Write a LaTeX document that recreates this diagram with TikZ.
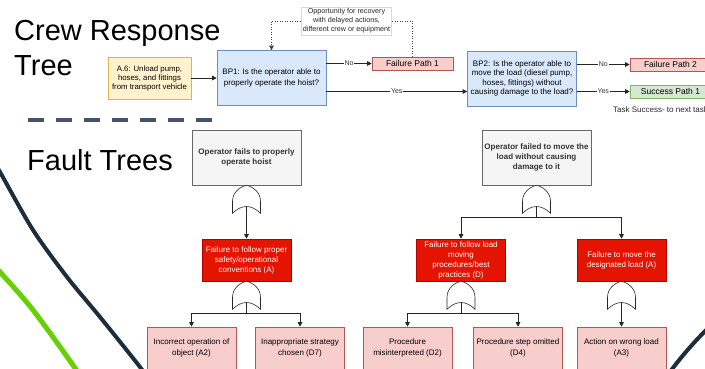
\documentclass[tikz,border=0pt]{standalone}
\usepackage{fontspec}
\setmainfont{Liberation Sans}
\usepackage{tikz}
\usetikzlibrary{arrows.meta, positioning, calc}

\definecolor{startfill}{HTML}{FFF2CC}
\definecolor{startline}{HTML}{D6B656}
\definecolor{bpfill}{HTML}{DAE8FC}
\definecolor{bpline}{HTML}{6C8EBF}
\definecolor{failfill}{HTML}{F8CECC}
\definecolor{failline}{HTML}{B85450}
\definecolor{succfill}{HTML}{D5E8D4}
\definecolor{succline}{HTML}{82B366}
\definecolor{topfill}{HTML}{F5F5F5}
\definecolor{topline}{HTML}{666666}
\definecolor{toptext}{HTML}{333333}
\definecolor{eventred}{HTML}{E51400}
\definecolor{eventline}{HTML}{B20000}
\definecolor{slidenavy}{HTML}{1C2D3C}
\definecolor{slidegreen}{HTML}{66D000}
\definecolor{dashslate}{HTML}{44546A}

\tikzset{
  boxbase/.style={rectangle, align=center, inner sep=2pt, line width=0.6pt,
                  font=\fontsize{8}{10}\selectfont},
  startbox/.style={boxbase, draw=startline, fill=startfill,
                   minimum width=83pt, minimum height=42pt, font=\fontsize{7.8}{9}\selectfont},
  bpbox/.style={boxbase, draw=bpline, fill=bpfill,
                minimum width=109pt, minimum height=55pt, font=\fontsize{8}{11}\selectfont},
  pathfail/.style={boxbase, draw=failline, fill=failfill, inner sep=0pt,
                   minimum width=81pt, minimum height=13pt, font=\fontsize{8.5}{10}\selectfont},
  pathok/.style={pathfail, draw=succline, fill=succfill},
  topevent/.style={boxbase, draw=topline, fill=topfill, text=toptext,
                   minimum width=109pt, minimum height=55pt, font=\fontsize{8}{10}\selectfont\bfseries},
  midevent/.style={boxbase, draw=eventline, fill=eventred, text=white,
                   minimum width=89pt, minimum height=42pt},
  basicevent/.style={boxbase, draw=failline, fill=failfill,
                     minimum width=89pt, minimum height=42pt, font=\fontsize{8}{10.5}\selectfont},
  recnote/.style={align=center, fill=white, draw=black!15, line width=0.4pt, inner sep=1.5pt,
                  font=\fontsize{7.2}{9}\selectfont, text=black!85},
  notetext/.style={inner sep=0pt, font=\fontsize{8}{9}\selectfont, text=black!85},
  edgelbl/.style={fill=white, inner sep=0.8pt, font=\fontsize{7}{8}\selectfont, text=black!80},
  flow/.style={draw=black!85, line width=0.6pt, -{Triangle[length=4.5pt,width=4.5pt]}},
  recover/.style={draw=black!75, line width=0.6pt, dash pattern=on 1pt off 1.5pt,
                  -{Triangle[length=4.5pt,width=4.5pt]}},
  gateline/.style={draw=black!85, fill=white, line width=0.6pt},
  slidetitle/.style={font=\fontsize{29}{34}\selectfont, inner sep=0pt, anchor=base west},
  orgate/.pic={
    \draw[gateline] (-14,28) -- (-14,16) .. controls (-14,6) and (-5,1) .. (0,0)
      .. controls (5,1) and (14,6) .. (14,16) -- (14,28)
      .. controls (5,19) and (-5,19) .. (-14,28) -- cycle;
    \coordinate (-out) at (0,21);
    \coordinate (-fork) at (0,32);
  }
}

\begin{document}
\begin{tikzpicture}[x=1pt, y=-1pt]
  \useasboundingbox (0,0) rectangle (705,368);
  \clip (0,0) rectangle (705,368);

  \draw[line width=4pt, slidenavy] plot[smooth] coordinates
        {(-10,155) (0,172) (33,230) (67,277) (100,317) (140,367) (148,380)};
  \draw[line width=5pt, slidegreen] plot[smooth] coordinates
        {(-10,262) (0,272) (33,310) (75,368) (82,380)};
  \draw[line width=4pt, slidenavy] (718,318) .. controls (700,336) and (684,352) .. (664,380);

  \node[slidetitle] (crewttl) at (14,40) {Crew Response};
  \node[slidetitle] (treettl) at (14,75) {Tree};
  \node[slidetitle] (faultttl) at (27,170) {Fault Trees};
  \draw[dashslate, line width=3.3pt, dash pattern=on 16pt off 12pt] (28,120) -- (212,120);

  \node[startbox] (unload) at (149.5,78) {A.6: Unload pump,\\hoses, and fittings\\from transport vehicle};
  \node[bpbox] (bp1) at (271.5,78) {BP1: Is the operator able to\\properly operate the hoist?};
  \node[pathfail] (fail1) at (412.5,63.5) {Failure Path 1};
  \node[bpbox, font=\fontsize{8}{9.6}\selectfont] (bp2) at (522,78.5)
        {BP2: Is the operator able to\\move the load (diesel pump,\\hoses, fittings) without\\causing damage to the load?};
  \node[pathfail] (fail2) at (670.5,64.5) {Failure Path 2};
  \node[pathok] (succ1) at (670.5,91.5) {Success Path 1};
  \node[notetext, anchor=west] (tasknote) at (613,110) {Task Success- to next task};
  \coordinate (recbend) at (346.5,21);

  \draw[flow] (unload) -- (bp1);
  \draw[flow] (bp1.east |- fail1) -- node[edgelbl] {No} (fail1);
  \draw[flow] (bp1.east |- succ1) -- node[edgelbl] {Yes} (bp2.west |- succ1);
  \draw[flow] (bp2.east |- fail2) -- node[edgelbl] {No} (fail2);
  \draw[flow] (bp2.east |- succ1) -- node[edgelbl] {Yes} (succ1);
  \draw[recover] (fail1.north) |- (recbend) -| (bp1.north);
  \node[recnote] (recovery) at (recbend)
        {Opportunity for recovery\\with delayed actions,\\different crew or equipment};

  \node[topevent] (hoistfail) at (246.5,157.5) {Operator fails to properly\\operate hoist};
  \pic (gate1) at (hoistfail.south) {orgate};
  \node[midevent] (convA) at (246.5,260) {Failure to follow proper\\safety/operational\\conventions (A)};
  \pic (gate2) at (convA.south) {orgate};
  \node[basicevent] (opA2) at (191.5,348) {Incorrect operation of\\object (A2)};
  \node[basicevent] (stratD7) at (300,348) {Inappropriate strategy\\chosen (D7)};
  \draw[flow] (gate1-out) -- (convA);
  \draw[flow] (gate2-out) -- (gate2-fork) -| (opA2);
  \draw[flow] (gate2-fork) -| (stratD7);

  \node[topevent] (loadfail) at (536.5,157.5) {Operator failed to move the\\load without causing\\damage to it};
  \pic (gate3) at (loadfail.south) {orgate};
  \node[midevent] (procD) at (461,260) {Failure to follow load\\moving\\procedures/best\\practices (D)};
  \node[midevent] (moveA) at (621.5,260) {Failure to move the\\designated load (A)};
  \pic (gate4) at (procD.south) {orgate};
  \pic (gate5) at (moveA.south) {orgate};
  \node[basicevent] (misD2) at (407.5,348) {Procedure\\misinterpreted (D2)};
  \node[basicevent] (omitD4) at (518,348) {Procedure step omitted\\(D4)};
  \node[basicevent] (wrongA3) at (621.5,348) {Action on wrong load\\(A3)};
  \draw[flow] (gate3-out) -- (gate3-fork) -| (procD);
  \draw[flow] (gate3-fork) -| (moveA);
  \draw[flow] (gate4-out) -- (gate4-fork) -| (misD2);
  \draw[flow] (gate4-fork) -| (omitD4);
  \draw[flow] (gate5-out) -- (wrongA3);
\end{tikzpicture}
\end{document}
